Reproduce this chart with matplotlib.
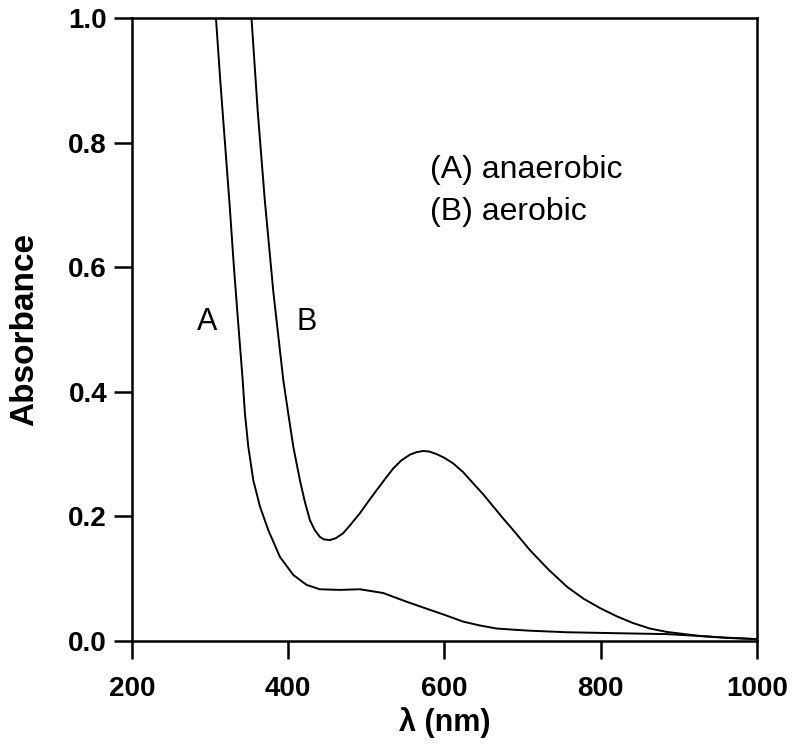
import matplotlib
matplotlib.use("Agg")
import matplotlib.pyplot as plt

plt.rcParams['font.family'] = ['Liberation Sans', 'DejaVu Sans']

# Curve A (anaerobic)
wl_a = [307.5, 313, 319, 325, 330.5, 336, 341.7, 344.6, 348.9, 355.3, 363.8, 374.5, 389.4,
        406.5, 423.6, 440.6, 466.2, 491.8, 521.7, 551.6, 581.4, 600, 624.1, 645, 666.8,
        690, 709.4, 757, 799, 841, 885, 927, 960, 1000]
abs_a = [1.0, 0.90, 0.80, 0.70, 0.60, 0.51, 0.419, 0.365, 0.312, 0.258, 0.216, 0.178, 0.135,
         0.106, 0.090, 0.083, 0.082, 0.083, 0.077, 0.063, 0.050, 0.042, 0.031, 0.025, 0.020,
         0.018, 0.0165, 0.014, 0.013, 0.012, 0.011, 0.008, 0.0055, 0.003]

# Curve B (aerobic)
wl_b = [353, 361, 370, 381, 393.7, 400.1, 406.5, 415, 421, 427.8, 434, 440.6, 446, 453.4,
        461, 470.4, 480, 491.8, 502, 513.2, 524, 534.5, 545, 555.8, 564, 572.9, 581, 590,
        600, 611.3, 624, 636.9, 650, 662.5, 675, 688.1, 709.4, 733, 757, 778, 799, 820,
        841, 863, 885, 927, 960, 1000]
abs_b = [1.0, 0.85, 0.708, 0.56, 0.419, 0.365, 0.312, 0.258, 0.225, 0.194, 0.178, 0.167, 0.163, 0.162,
         0.165, 0.173, 0.187, 0.205, 0.223, 0.242, 0.260, 0.277, 0.290, 0.299, 0.303, 0.305, 0.304, 0.300,
         0.294, 0.285, 0.271, 0.253, 0.235, 0.216, 0.197, 0.178, 0.146, 0.115, 0.087, 0.068, 0.053, 0.040,
         0.029, 0.020, 0.0145, 0.008, 0.005, 0.003]

xticks = [200, 400, 600, 800, 1000]
yticks = [0.0, 0.2, 0.4, 0.6, 0.8, 1.0]

fig = plt.figure(figsize=(8.0, 7.51), dpi=100)
ax = fig.add_axes([0.165, 0.1465, 0.781, 0.8295])

ax.plot(wl_a, abs_a, color='black', lw=1.4, solid_joinstyle='round')
ax.plot(wl_b, abs_b, color='black', lw=1.4, solid_joinstyle='round')

ax.set_xlim(200, 1000)
ax.set_ylim(0, 1.0)
ax.set_xticks(xticks)
ax.set_yticks(yticks)
ax.set_yticklabels([f"{v:.1f}" for v in yticks])
ax.tick_params(direction='out', length=13, width=1.8, labelsize=20)
ax.tick_params(axis='x', pad=12)
ax.tick_params(axis='y', pad=5)
for lab in ax.get_xticklabels() + ax.get_yticklabels():
    lab.set_fontweight('bold')
for s in ax.spines.values():
    s.set_linewidth(1.8)

ax.set_xlabel('λ (nm)', fontsize=22, fontweight='bold', labelpad=4)
ax.set_ylabel('Absorbance', fontsize=24, fontweight='bold', labelpad=20)

ax.text(581.4, 0.756, '(A) anaerobic', fontsize=23, va='center', ha='left')
ax.text(581.4, 0.689, '(B) aerobic', fontsize=23, va='center', ha='left')
ax.text(296, 0.512, 'A', fontsize=22, va='center', ha='center')
ax.text(423, 0.512, 'B', fontsize=22, va='center', ha='center')

fig.savefig('out.png', dpi=100)
